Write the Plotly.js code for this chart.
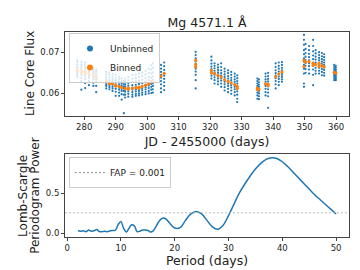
<!DOCTYPE html>
<html>
<head>
<meta charset="utf-8">
<script src="https://cdn.plot.ly/plotly-3.0.1.min.js"></script>
<style>html,body{margin:0;padding:0;background:#fff}#chart{width:360px;height:270px}</style>
</head>
<body>
<div id="chart"></div>
<script>
// ---- Light curve: unbinned points, grouped by night (JD - 2455000) ----
const nightTimes = [277.8, 279.1, 280.3, 281.5, 282.9, 283.8,
  287.0, 288.0, 289.0, 290.0, 291.1, 291.9, 292.6, 293.0, 294.0, 295.3, 296.4, 297.4, 298.4, 299.5, 300.5, 301.3, 301.8,
  304.4, 305.4, 315.4,
  320.4, 321.4, 322.5, 323.5, 324.6, 325.7, 326.7, 327.8, 328.6,
  335.0, 335.5, 337.6, 338.4, 340.8, 341.8, 342.8,
  349.8, 350.3, 351.4, 352.7, 353.5, 354.6, 355.5, 356.2, 359.4, 359.9];
const nightFlux = [
  [0.0681,0.0676,0.0670,0.0664,0.0660,0.0656,0.0652,0.0648,0.0644,0.0640],
  [0.0677,0.0670,0.0665,0.0660,0.0655,0.0650,0.0645,0.0638,0.0630,0.0609],
  [0.0675,0.0668,0.0663,0.0658,0.0653,0.0648,0.0642,0.0635,0.0625,0.0613],
  [0.0664,0.0660,0.0655,0.0651,0.0647,0.0643,0.0638,0.0630,0.0620],
  [0.0660,0.0656,0.0652,0.0648,0.0644,0.0640,0.0634,0.0626,0.0618],
  [0.0658,0.0653,0.0648,0.0643,0.0639,0.0634,0.0628,0.0618,0.0603],
  [0.0652,0.0646,0.0640,0.0634,0.0630,0.0626,0.0622,0.0618,0.0612],
  [0.0650,0.0644,0.0638,0.0632,0.0628,0.0624,0.0620,0.0615,0.0610],
  [0.0647,0.0641,0.0635,0.0630,0.0626,0.0622,0.0617,0.0612,0.0606],
  [0.0645,0.0638,0.0632,0.0627,0.0622,0.0617,0.0611,0.0604,0.0594],
  [0.0640,0.0634,0.0628,0.0622,0.0618,0.0614,0.0609,0.0602,0.0594],
  [0.0636,0.0630,0.0624,0.0619,0.0615,0.0611,0.0606,0.0598,0.0585],
  [0.0630,0.0622,0.0616,0.0612,0.0606,0.0597,0.0552],
  [0.0636,0.0629,0.0622,0.0617,0.0613,0.0609,0.0604,0.0597,0.0590],
  [0.0640,0.0632,0.0625,0.0619,0.0614,0.0610,0.0605,0.0599,0.0592],
  [0.0645,0.0636,0.0628,0.0620,0.0614,0.0609,0.0603,0.0597,0.0592],
  [0.0645,0.0637,0.0629,0.0621,0.0615,0.0610,0.0605,0.0599,0.0594],
  [0.0648,0.0640,0.0631,0.0623,0.0616,0.0611,0.0606,0.0600,0.0595],
  [0.0650,0.0642,0.0633,0.0625,0.0618,0.0613,0.0608,0.0602,0.0597],
  [0.0655,0.0646,0.0637,0.0628,0.0621,0.0615,0.0610,0.0604,0.0598],
  [0.0660,0.0650,0.0640,0.0632,0.0625,0.0619,0.0613,0.0606,0.0600],
  [0.0668,0.0658,0.0648,0.0638,0.0630,0.0623,0.0616,0.0609,0.0601],
  [0.0673,0.0662,0.0651,0.0641,0.0633,0.0625,0.0618,0.0610,0.0602],
  [0.0669,0.0660,0.0652,0.0645,0.0638,0.0630,0.0622,0.0612,0.0603],
  [0.0675,0.0666,0.0657,0.0650,0.0643,0.0635,0.0627,0.0618,0.0608],
  [0.0701,0.0693,0.0685,0.0678,0.0672,0.0666,0.0660,0.0653,0.0645,0.0632,0.0612],
  [0.0689,0.0680,0.0672,0.0665,0.0659,0.0654,0.0649,0.0643,0.0636],
  [0.0673,0.0667,0.0661,0.0655,0.0650,0.0645,0.0639,0.0632,0.0624],
  [0.0670,0.0663,0.0657,0.0651,0.0646,0.0641,0.0636,0.0629,0.0622],
  [0.0673,0.0664,0.0656,0.0649,0.0643,0.0637,0.0631,0.0624,0.0616],
  [0.0660,0.0653,0.0646,0.0640,0.0634,0.0628,0.0622,0.0615,0.0607],
  [0.0656,0.0649,0.0642,0.0636,0.0630,0.0624,0.0618,0.0611,0.0603],
  [0.0652,0.0645,0.0638,0.0632,0.0626,0.0620,0.0614,0.0607,0.0599],
  [0.0648,0.0641,0.0634,0.0628,0.0622,0.0616,0.0610,0.0603,0.0595],
  [0.0644,0.0637,0.0630,0.0624,0.0618,0.0612,0.0605,0.0597,0.0587,0.0579],
  [0.0636,0.0630,0.0624,0.0618,0.0613,0.0608,0.0602,0.0595,0.0587],
  [0.0634,0.0627,0.0621,0.0616,0.0611,0.0606,0.0600,0.0593,0.0586],
  [0.0648,0.0641,0.0634,0.0628,0.0623,0.0618,0.0611,0.0603,0.0595],
  [0.0650,0.0642,0.0635,0.0629,0.0623,0.0617,0.0610,0.0602,0.0593,0.0565],
  [0.0673,0.0664,0.0656,0.0649,0.0643,0.0637,0.0630,0.0622,0.0612],
  [0.0675,0.0667,0.0660,0.0653,0.0647,0.0641,0.0635,0.0628,0.0620],
  [0.0676,0.0669,0.0662,0.0656,0.0650,0.0645,0.0640,0.0634,0.0628],
  [0.0742,0.0730,0.0718,0.0705,0.0695,0.0685,0.0677,0.0669,0.0660,0.0648,0.0624,0.0616],
  [0.0720,0.0708,0.0698,0.0689,0.0681,0.0674,0.0667,0.0659,0.0650],
  [0.0715,0.0705,0.0696,0.0688,0.0680,0.0673,0.0666,0.0658,0.0648],
  [0.0730,0.0715,0.0702,0.0692,0.0683,0.0675,0.0667,0.0658,0.0645,0.0620],
  [0.0705,0.0697,0.0689,0.0682,0.0675,0.0669,0.0662,0.0655,0.0648],
  [0.0700,0.0693,0.0686,0.0680,0.0674,0.0668,0.0662,0.0655,0.0648],
  [0.0698,0.0690,0.0683,0.0677,0.0671,0.0665,0.0659,0.0652,0.0644],
  [0.0695,0.0688,0.0681,0.0675,0.0669,0.0663,0.0657,0.0650,0.0643],
  [0.0669,0.0664,0.0659,0.0654,0.0650,0.0646,0.0642,0.0637,0.0632],
  [0.0667,0.0662,0.0657,0.0652,0.0648,0.0644,0.0640,0.0636,0.0632]
];

// ---- Light curve: binned points ----
const binnedTimes = [277.8, 277.8, 279.1, 279.1, 280.3, 280.3, 281.5, 282.9, 283.8, 283.8,
  287.0, 288.0, 288.0, 289.0, 290.0, 290.0, 291.1, 291.9, 293.0, 294.0, 294.0, 295.3, 296.4, 297.4, 297.4, 298.4, 299.5, 300.5, 301.3, 301.8,
  304.4, 305.4, 315.4, 315.4, 315.4,
  320.4, 320.4, 321.4, 322.5, 323.5, 324.6, 325.7, 326.7, 327.8, 328.6, 328.6,
  335.0, 335.0, 335.5, 337.6, 338.4, 338.4, 340.8, 341.8, 342.8,
  349.8, 349.8, 350.3, 351.4, 352.7, 352.7, 353.5, 354.6, 354.6, 355.5, 356.2, 359.4, 359.9];
const binnedFlux = [0.0657, 0.0655, 0.0654, 0.0650, 0.0652, 0.0649, 0.0648, 0.0645, 0.0641, 0.0638,
  0.0628, 0.0626, 0.0623, 0.0624, 0.0620, 0.0618, 0.0617, 0.0614, 0.0612, 0.0613, 0.0610, 0.0612, 0.0614, 0.0615, 0.0612, 0.0617, 0.0620, 0.0623, 0.0627, 0.0630,
  0.0642, 0.0648, 0.0680, 0.0670, 0.0664,
  0.0656, 0.0650, 0.0648, 0.0644, 0.0640, 0.0633, 0.0629, 0.0625, 0.0621, 0.0617, 0.0612,
  0.0613, 0.0609, 0.0610, 0.0623, 0.0622, 0.0619, 0.0640, 0.0647, 0.0652,
  0.0680, 0.0665, 0.0676, 0.0677, 0.0673, 0.0668, 0.0670, 0.0673, 0.0665, 0.0668, 0.0664, 0.0651, 0.0649];

// ---- Periodogram ----
const periods = [2,2.5,3,3.5,4,4.5,5,5.5,6,6.5,7,7.5,8,8.5,9,9.5,10,10.5,11,11.5,12,12.5,13,13.5,14,14.5,15,15.5,16,16.5,17,17.5,18,18.5,19,20,21,22,23,24,25,26,27,28,29,30,31,32,33,34,35,36,37,38,39,40,41,42,43,44,45,46,47,48,49,50];
const power = [0.03,0.025,0.03,0.02,0.04,0.025,0.03,0.045,0.02,0.02,0.025,0.02,0.03,0.035,0.04,0.11,0.145,0.06,0.015,0.06,0.105,0.09,0.02,0.025,0.04,0.04,0.035,0.015,0.03,0.08,0.14,0.18,0.19,0.17,0.13,0.065,0.07,0.16,0.24,0.27,0.24,0.16,0.08,0.05,0.10,0.22,0.36,0.50,0.61,0.71,0.80,0.87,0.92,0.94,0.93,0.89,0.83,0.76,0.69,0.62,0.55,0.48,0.42,0.36,0.30,0.24];
const fapLevel = 0.254;
const fapLabel = 'FAP = 0.001';

// flatten nightly unbinned points
const ubX = [], ubY = [];
nightTimes.forEach((t, i) => nightFlux[i].forEach(v => { ubX.push(t); ubY.push(v); }));

const BLUE = '#1f77b4', ORANGE = '#ff7f0e';
const traces = [
  {x: ubX, y: ubY, type: 'scatter', mode: 'markers', xaxis: 'x', yaxis: 'y',
   marker: {color: BLUE, size: 2.2}, showlegend: false, hoverinfo: 'skip'},
  {x: binnedTimes, y: binnedFlux, type: 'scatter', mode: 'markers', xaxis: 'x', yaxis: 'y',
   marker: {color: ORANGE, size: 3.2}, showlegend: false, hoverinfo: 'skip'},
  // legend entries
  {x: [null], y: [null], type: 'scatter', mode: 'markers', name: 'Unbinned', xaxis: 'x', yaxis: 'y',
   marker: {color: BLUE, size: 6}, legend: 'legend'},
  {x: [null], y: [null], type: 'scatter', mode: 'markers', name: 'Binned', xaxis: 'x', yaxis: 'y',
   marker: {color: ORANGE, size: 6}, legend: 'legend'},
  {x: periods, y: power, type: 'scatter', mode: 'lines', xaxis: 'x2', yaxis: 'y2',
   line: {color: BLUE, width: 1.5, shape: 'spline', smoothing: 1}, showlegend: false},
  {x: [null], y: [null], type: 'scatter', mode: 'lines', name: fapLabel, xaxis: 'x2', yaxis: 'y2',
   line: {color: '#777', width: 0.8, dash: '2px,2px'}, legend: 'legend2'}
];

const tickFont = {family: 'DejaVu Sans', size: 8.5, color: '#222'};
const axBase = {showline: true, mirror: true, linecolor: '#444', linewidth: 1, ticks: 'outside',
  ticklen: 3, tickcolor: '#444', showgrid: false, zeroline: false, tickfont: tickFont};
const labelFont = {family: 'DejaVu Sans', size: 12, color: '#222'};

const layout = {
  width: 360, height: 270,
  margin: {l: 65, r: 11, t: 32, b: 33},
  paper_bgcolor: '#fff', plot_bgcolor: '#fff',
  font: {family: 'DejaVu Sans', color: '#222'},
  title: {text: 'Mg 4571.1 Å', font: {family: 'DejaVu Sans', size: 12.5, color: '#222'},
          x: 0.575, xanchor: 'center', y: 0.915, yanchor: 'middle'},
  xaxis: Object.assign({}, axBase, {domain: [0, 1], anchor: 'y', range: [273.9, 364.1],
    tickvals: [280, 290, 300, 310, 320, 330, 340, 350, 360],
    title: {text: 'JD - 2455000 (days)', font: {family: 'DejaVu Sans', size: 12.5, color: '#222'}, standoff: 5}}),
  yaxis: Object.assign({}, axBase, {domain: [0.59, 1], anchor: 'x', range: [0.0545, 0.0749],
    tickvals: [0.06, 0.07], tickformat: '.2f'}),
  xaxis2: Object.assign({}, axBase, {domain: [0, 1], anchor: 'y2', range: [-0.4, 52.4],
    tickvals: [0, 10, 20, 30, 40, 50],
    title: {text: 'Period (days)', font: {family: 'DejaVu Sans', size: 12.5, color: '#222'}, standoff: 4}}),
  yaxis2: Object.assign({}, axBase, {domain: [0, 0.405], anchor: 'x2', range: [-0.047, 0.987],
    tickvals: [0, 0.5], tickformat: '.1f'}),
  annotations: [
    {text: 'Line Core Flux', textangle: -90, xref: 'paper', yref: 'paper', x: -0.123, y: 0.795,
     xanchor: 'center', yanchor: 'middle', showarrow: false, font: labelFont},
    {text: 'Lomb-Scargle', textangle: -90, xref: 'paper', yref: 'paper', x: -0.150, y: 0.2024,
     xanchor: 'center', yanchor: 'middle', showarrow: false, font: labelFont},
    {text: 'Periodogram Power', textangle: -90, xref: 'paper', yref: 'paper', x: -0.108, y: 0.2024,
     xanchor: 'center', yanchor: 'middle', showarrow: false, font: labelFont}
  ],
  shapes: [{type: 'line', xref: 'x2 domain', x0: 0, x1: 1, yref: 'y2', y0: fapLevel, y1: fapLevel,
    line: {color: '#aaa', width: 0.8, dash: '2px,2px'}}],
  legend: {x: 0.014, y: 0.995, xanchor: 'left', yanchor: 'top', bgcolor: 'rgba(255,255,255,0.8)',
    bordercolor: '#ccc', borderwidth: 1, font: {family: 'DejaVu Sans', size: 9, color: '#222'},
    tracegroupgap: 0, itemwidth: 30},
  legend2: {x: 0.014, y: 0.39, xanchor: 'left', yanchor: 'top', bgcolor: 'rgba(255,255,255,0.8)',
    bordercolor: '#ccc', borderwidth: 1, font: {family: 'DejaVu Sans', size: 9, color: '#222'}, itemwidth: 30}
};

Plotly.newPlot('chart', traces, layout, {staticPlot: true, displayModeBar: false});
</script>
</body>
</html>
